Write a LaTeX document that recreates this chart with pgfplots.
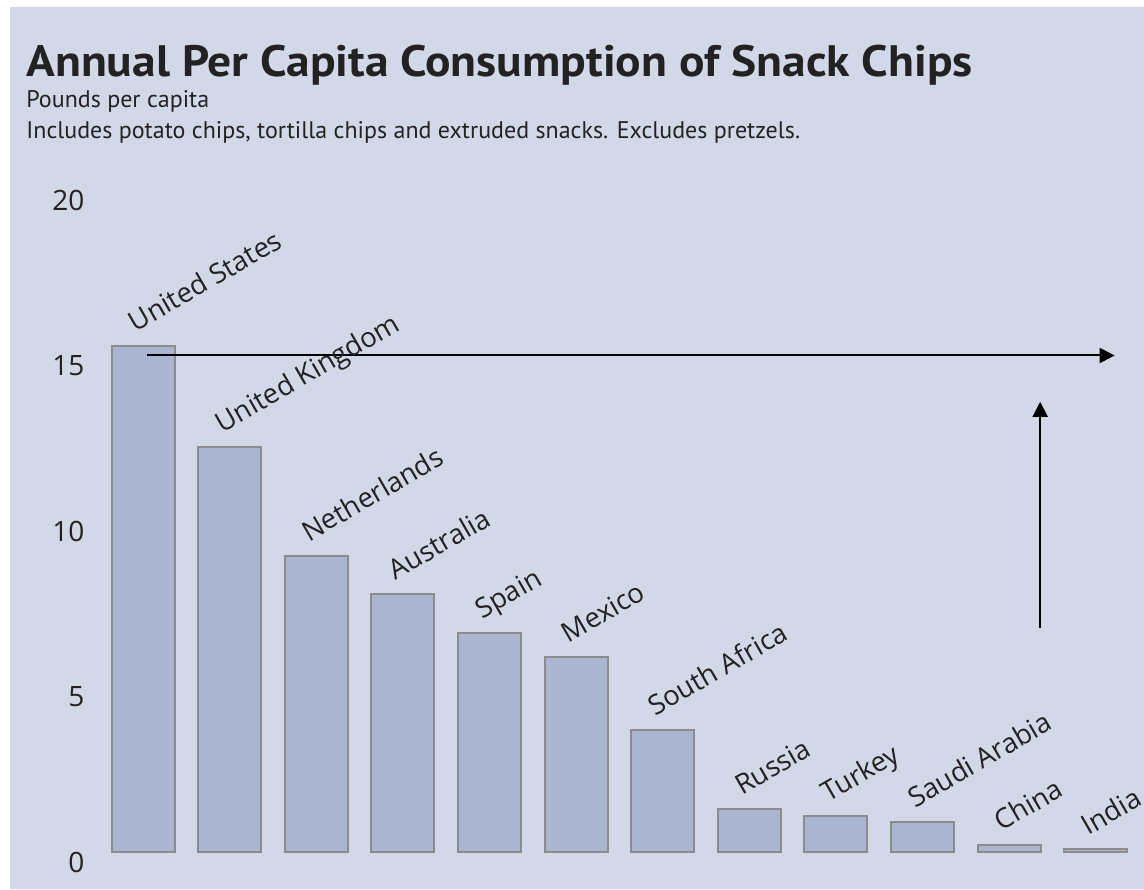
\documentclass[border=0pt]{standalone}
\usepackage{fontspec}
\usepackage{pgfplots}
\pgfplotsset{compat=1.18}
\usepackage{pgfplotstable}
\usetikzlibrary{arrows.meta}
\setmainfont{Open Sans}
\newfontfamily\titlefont[FakeStretch=1.08]{PT Sans}
\newfontfamily\subfont{PT Sans}
\definecolor{bg}{HTML}{D3D8E8}
\definecolor{barfill}{HTML}{AAB5D2}
\definecolor{barline}{HTML}{8C8C8C}
\definecolor{txt}{HTML}{222222}

\pgfplotstableread[col sep=comma]{
x,y,label
0,15.3,United States
1,12.25,United Kingdom
2,8.95,Netherlands
3,7.8,Australia
4,6.62,Spain
5,5.9,Mexico
6,3.69,South Africa
7,1.3,Russia
8,1.09,Turkey
9,0.91,Saudi Arabia
10,0.21,China
11,0.08,India
}\chipsdata

\begin{document}
\begin{tikzpicture}
\clip (0,0) rectangle (572pt,444.5pt);
\fill[white] (0,0) rectangle (572pt,444.5pt);
\fill[bg] (5pt,0) rectangle (572pt,441pt);
\node[anchor=base west, inner sep=0, text=txt, font=\titlefont\bfseries\fontsize{22}{26}\selectfont] at (13pt,406pt) {Annual Per Capita Consumption of Snack Chips};
\node[anchor=base west, inner sep=0, text=txt, font=\subfont\fontsize{12}{14}\selectfont] at (13pt,390.5pt) {Pounds per capita};
\node[anchor=base west, inner sep=0, text=txt, font=\subfont\fontsize{12}{14}\selectfont] at (13pt,375pt) {Includes potato chips, tortilla chips and extruded snacks. Excludes pretzels.};
\begin{axis}[
  at={(49.85pt,18.5pt)}, anchor=south west, scale only axis,
  width=519.6pt, height=331pt,
  xmin=-0.5, xmax=11.5, ymin=0, ymax=20,
  clip=false,
  axis line style={draw=none},
  major tick length=0pt,
  xtick=\empty,
  ytick={0,5,10,15,20},
  /pgf/number format/assume math mode=true,
  yticklabel style={font=\fontsize{14}{16}\selectfont, text=txt, anchor=east, inner sep=0pt, xshift=-7.5pt, yshift=-5pt},
  ybar, bar width=31.5pt,
  nodes near coords,
  point meta=explicit symbolic,
  every node near coord/.append style={font=\fontsize{13.7}{16}\selectfont, text=txt, anchor=base west, inner sep=0pt, xshift=-4pt, yshift=6.5pt, rotate=30},
]
\addplot[fill=barfill, draw=barline, line width=1pt] table[x=x, y=y, meta=label] {\chipsdata};
\draw[line width=1pt, -{Triangle[length=7.5pt,width=7.5pt]}] (axis cs:0.05,15) -- (axis cs:11.22,15);
\draw[line width=1pt, -{Triangle[length=7.5pt,width=7.5pt]}] (axis cs:10.36,6.77) -- (axis cs:10.36,13.6);
\end{axis}
\end{tikzpicture}
\end{document}
